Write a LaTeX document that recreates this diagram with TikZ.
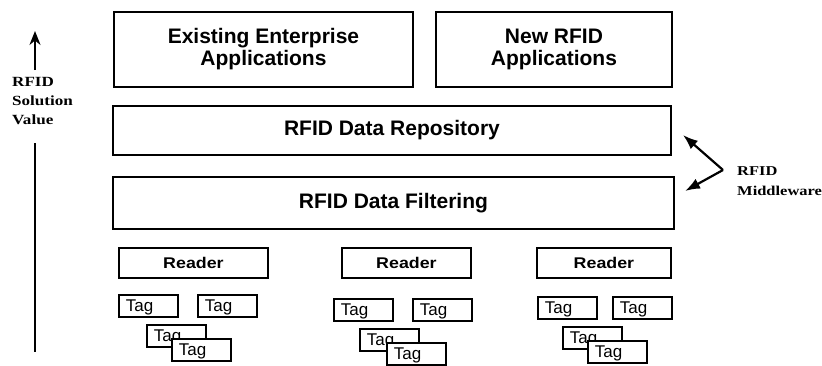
\documentclass[tikz,border=0pt]{standalone}
\usepackage{fontspec}
\setmainfont{Liberation Serif}
\newfontfamily\boxfont{Liberation Sans}
\newfontfamily\widesans[FakeStretch=1.15]{Liberation Sans}
\newfontfamily\wideserif[FakeStretch=1.22]{Liberation Serif}
\usetikzlibrary{arrows.meta}

\tikzset{
  layer/.style={draw, line width=1.9pt, inner sep=0pt, anchor=north west, align=center,
    font=\boxfont\bfseries\fontsize{21}{22}\selectfont},
  readerbox/.style={draw, line width=1.9pt, inner sep=0pt, anchor=north west,
    minimum height=30pt, font=\widesans\bfseries\fontsize{15.5}{18}\selectfont},
  tagbox/.style={draw, fill=white, line width=1.9pt, anchor=north west, minimum height=22pt,
    text width=45pt, text height=13.5pt, text depth=1.5pt, inner xsep=7pt, inner ysep=3.5pt,
    align=left, font=\boxfont\fontsize{17}{18}\selectfont},
  sidelabel/.style={anchor=north west, align=left, inner sep=0pt},
  axisline/.style={line width=2pt},
  pointer/.style={line width=2.2pt, -{Latex[length=15pt,width=11pt]}}
}

\begin{document}
\begin{tikzpicture}[x=1pt,y=-1pt]
\useasboundingbox (0,0) rectangle (822,365);

% application layer
\node[layer, minimum width=299pt, minimum height=75pt] (ent) at (113,11) {Existing Enterprise\\Applications};
\node[layer, minimum width=236pt, minimum height=75pt] (newapp) at (435,11) {New RFID\\Applications};

% middleware layers
\node[layer, minimum width=558pt, minimum height=49pt] (repo) at (112,105) {RFID Data Repository};
\node[layer, minimum width=561pt, minimum height=52pt] (filt) at (112,176) {RFID Data Filtering};

% readers
\node[readerbox, minimum width=149pt] (rd1) at (118,247) {Reader};
\node[readerbox, minimum width=129pt] (rd2) at (341,247) {Reader};
\node[readerbox, minimum width=134pt] (rd3) at (536,247) {Reader};

% tags under reader 1
\node[tagbox] (t1a) at (118,294) {Tag};
\node[tagbox] (t1b) at (197,294) {Tag};
\node[tagbox] (t1c) at (146,324) {Tag};
\node[tagbox] (t1d) at (171,338) {Tag};

% tags under reader 2
\node[tagbox] (t2a) at (333,298) {Tag};
\node[tagbox] (t2b) at (412,298) {Tag};
\node[tagbox] (t2c) at (359,328) {Tag};
\node[tagbox] (t2d) at (386,342) {Tag};

% tags under reader 3
\node[tagbox] (t3a) at (537,296) {Tag};
\node[tagbox] (t3b) at (612,296) {Tag};
\node[tagbox] (t3c) at (562,326) {Tag};
\node[tagbox] (t3d) at (587,340) {Tag};

% value axis on the left
\coordinate (axbase) at (35,70);
\coordinate (axtip) at (35,31);
\draw[axisline, -{Stealth[length=14pt,width=11pt]}] (axbase) -- (axtip);
\node[sidelabel, font=\wideserif\bfseries\fontsize{14}{19}\selectfont] (axlabel) at (12,77) {RFID\\Solution\\Value};
\coordinate (axstart) at (35,143);
\coordinate (axend) at (35,352);
\draw[axisline] (axstart) -- (axend);

% middleware bracket arrows
\coordinate (mw) at (723,170);
\coordinate (mwup) at (683,135);
\coordinate (mwdn) at (685,191);
\draw[pointer] (mw) -- (mwup);
\draw[pointer] (mw) -- (mwdn);
\node[sidelabel, font=\wideserif\bfseries\fontsize{13.5}{20}\selectfont] (mwlabel) at (737,166) {RFID\\Middleware};
\end{tikzpicture}
\end{document}
